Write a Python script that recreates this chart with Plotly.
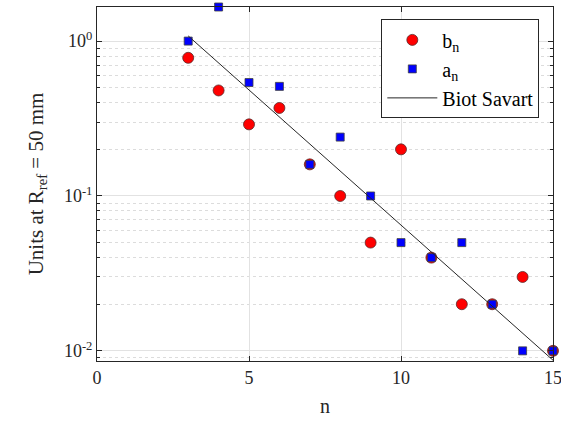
import numpy as np
import plotly.graph_objects as go

# Harmonic index
n = [3, 4, 5, 6, 7, 8, 9, 10, 11, 12, 13, 14, 15]
# Normal (b_n) and skew (a_n) harmonics, units at R_ref = 50 mm
b_n = [0.78, 0.48, 0.29, 0.37, 0.16, 0.10, 0.05, 0.20, 0.04, 0.02, 0.02, 0.03, 0.01]
a_n = [1.00, 1.66, 0.54, 0.51, 0.16, 0.24, 0.10, 0.05, 0.04, 0.05, 0.02, 0.01, 0.01]
# Biot-Savart prediction (straight line on the log scale)
bs_n = [3, 15]
bs_val = [1.08, 0.0087]

y_major = [1, 0.1, 0.01]
y_major_text = ["10<sup>0</sup>", "10<sup>-1</sup>", "10<sup>-2</sup>"]
x_ticks = [0, 5, 10, 15]

minor_vals = [m * 10.0 ** e for e in (-3, -2, -1, 0) for m in range(2, 10)]

font = "Liberation Serif, 'Times New Roman', Times, serif"

fig = go.Figure()
fig.add_trace(go.Scatter(
    x=n, y=b_n, mode="markers", name="b<sub>n</sub>",
    marker=dict(symbol="circle", size=11, color="#ff0000",
                line=dict(color="#5a2a2a", width=0.8)),
    cliponaxis=False,
))
fig.add_trace(go.Scatter(
    x=n, y=a_n, mode="markers", name="a<sub>n</sub>",
    marker=dict(symbol="square", size=8, color="#0000ff",
                line=dict(color="#404040", width=0.8)),
    cliponaxis=False,
))
fig.add_trace(go.Scatter(
    x=bs_n, y=bs_val, mode="lines", name="Biot Savart",
    line=dict(color="#262626", width=1),
))

fig.update_layout(
    width=561, height=428,
    margin=dict(l=97, r=8, t=7, b=67),
    paper_bgcolor="white", plot_bgcolor="white",
    font=dict(family=font, size=18, color="#262626"),
    showlegend=True,
    legend=dict(
        x=0.97, y=0.965, xanchor="right", yanchor="top",
        bgcolor="white", bordercolor="#262626", borderwidth=1,
        font=dict(family=font, size=20, color="#000000"),
        itemwidth=50, tracegroupgap=2,
    ),
)

fig.update_xaxes(
    range=[0, 15], tickvals=x_ticks,
    ticks="inside", ticklen=5, tickcolor="#262626",
    showline=True, linecolor="#262626", linewidth=1, mirror="ticks",
    showgrid=True, gridcolor="#e2e2e2", gridwidth=1, zeroline=False,
    title=dict(text="n", font=dict(family=font, size=20), standoff=12),
    tickfont=dict(family=font, size=18),
    ticklabeloverflow="allow", automargin=False,
)

fig.update_yaxes(
    type="log", range=[np.log10(0.0086), np.log10(1.66)],
    tickvals=y_major, ticktext=y_major_text,
    ticks="inside", ticklen=5, tickcolor="#262626",
    showline=True, linecolor="#262626", linewidth=1, mirror="ticks",
    showgrid=True, gridcolor="#e2e2e2", gridwidth=1, zeroline=False,
    minor=dict(tickvals=minor_vals, ticks="inside", ticklen=3,
               tickcolor="#262626", showgrid=True, gridcolor="#dcdcdc",
               griddash="dot", gridwidth=1),
    title=dict(text="Units at R<sub>ref</sub> = 50 mm",
               font=dict(family=font, size=21), standoff=14),
    tickfont=dict(family=font, size=18),
    automargin=False,
)

fig.write_html("out.html")
